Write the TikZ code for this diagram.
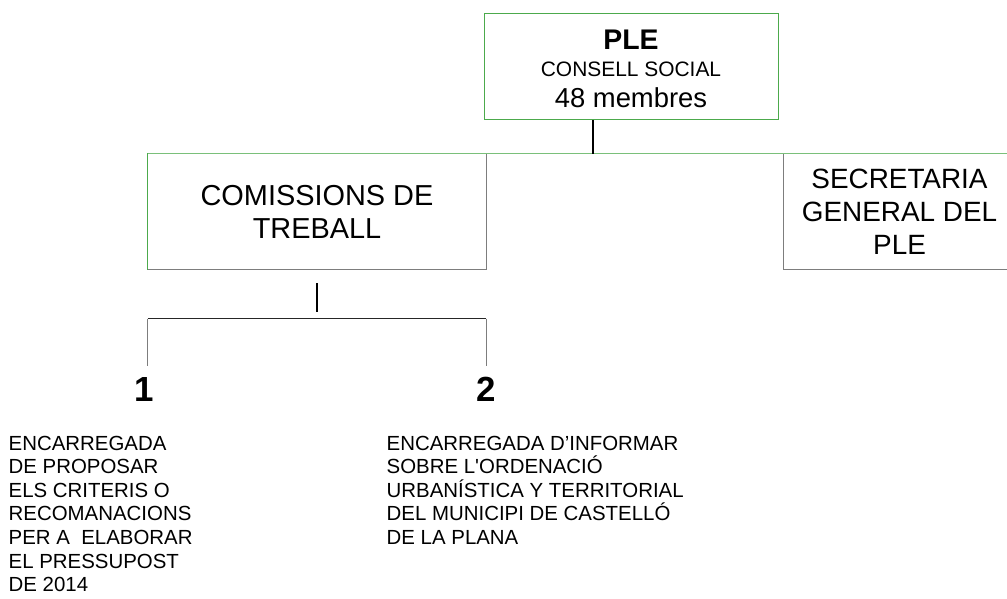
\documentclass[tikz,border=0pt]{standalone}
\usepackage{fontspec}
\newfontfamily\orgfont{Liberation Sans}
\usepackage{tikz}
\usetikzlibrary{positioning, calc}

\definecolor{boxgreen}{RGB}{76,170,76}
\definecolor{busgreen}{RGB}{122,192,122}
\definecolor{edgegray}{RGB}{125,125,125}

\begin{document}
\begin{tikzpicture}[
        x=1bp, y=-1bp,
        % --- STILS ---
        % 1. Caixa del PLE (vora verda)
        topbox/.style={
                draw=boxgreen,
                line width=1bp,
                minimum width=294bp,
                minimum height=106bp,
                inner sep=0pt
            },
        % 2. Caixes penjades de la barra verda
        unitbox/.style={
                align=center,
                minimum height=116bp,
                inner sep=0pt
            },
        % 3. Vores i barra
        greenedge/.style={draw=boxgreen, line width=1.2bp},
        grayedge/.style={draw=edgegray, line width=1bp},
        bus/.style={draw=busgreen, line width=1.5bp},
        % 4. Enllacos negres
        link/.style={draw=black, line width=2.2bp},
        bracket/.style={draw=black!85, line width=1bp},
        drop/.style={draw=edgegray, line width=1bp},
        % 5. Numeros i descripcions
        number/.style={
                anchor=base,
                font={\orgfont\fontsize{35}{35}\selectfont\bfseries}
            },
        task/.style={
                align=left,
                anchor=north west,
                inner sep=0pt,
                font={\orgfont\fontsize{20.5}{23.6}\selectfont}
            }
    ]

    \useasboundingbox (0,0) rectangle (1007,599);

    % 1. El PLE
    \node[topbox] (ple) at (631,67) {};
    \node[anchor=base, font={\orgfont\fontsize{28.5}{28.5}\selectfont\bfseries}] (pletitle) at (631,49.3) {PLE};
    \node[anchor=base, font={\orgfont\fontsize{21}{21}\selectfont}] (plesub) at (631,76.7) {CONSELL SOCIAL};
    \node[anchor=base, font={\orgfont\fontsize{27.5}{27.5}\selectfont}] (plecount) at (631,107.3) {48 membres};

    % 2. Comissions i Secretaria
    \node[unitbox, minimum width=338bp, font={\orgfont\fontsize{29}{32.7}\selectfont}] (comissions) at (317,211.7) {COMISSIONS DE\\TREBALL};
    \node[unitbox, minimum width=231bp, font={\orgfont\fontsize{28}{33.5}\selectfont}] (secretaria) at (899.5,211.7) {SECRETARIA\\GENERAL DEL\\PLE};

    % 3. Vores de les caixes i barra verda
    \draw[grayedge] (comissions.north east) |- (comissions.south west);
    \draw[grayedge] (secretaria.north west) |- (secretaria.south east);
    \draw[greenedge] (comissions.south west) -- (comissions.north west);
    \draw[bus] (comissions.north west) -- (secretaria.north east);

    % 4. Enllac del PLE a la barra
    \coordinate (plejoin) at (593,153.7);
    \draw[link] (ple.south -| plejoin) -- (plejoin);

    % 5. Les dues comissions
    \draw[link] ($(comissions.south)+(0,13.5)$) -- ++(0,28.5);
    \coordinate (fork) at (317,318.7);
    \draw[bracket] (comissions.west |- fork) -- (comissions.east |- fork);
    \draw[drop] (comissions.west |- fork) -- ++(0,47.3);
    \draw[drop] (comissions.east |- fork) -- ++(0,47.3);

    \node[number] (num1) at (144,401.7) {1};
    \node[number] (num2) at (486,401.7) {2};

    % 6. Descripcions
    \node[task] (task1) at (8.5,436) {ENCARREGADA\\DE PROPOSAR\\ELS CRITERIS O\\RECOMANACIONS\\PER A\ \ ELABORAR\\EL PRESSUPOST\\DE 2014};
    \node[task] (task2) at (386.5,436) {ENCARREGADA D’INFORMAR\\SOBRE L'ORDENACIÓ\\URBANÍSTICA Y TERRITORIAL\\DEL MUNICIPI DE CASTELLÓ\\DE LA PLANA};

\end{tikzpicture}
\end{document}
